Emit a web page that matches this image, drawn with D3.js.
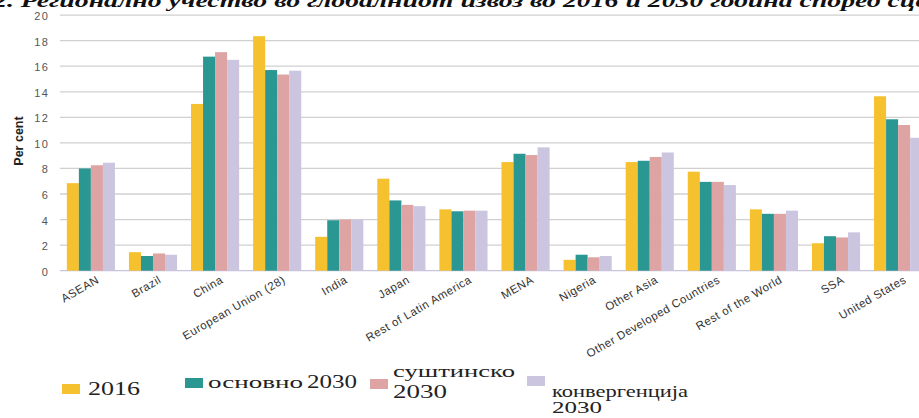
<!DOCTYPE html>
<html>
  <head>
    <meta charset="utf-8" />
    <title>Регионално учество во глобалниот извоз</title>
    <style>
      html, body {
        margin: 0;
        padding: 0;
        background-color: white;
      }
      svg { display: block; }
      .grid line { stroke: #d0d0d0; stroke-width: 1.3px; }
      .yAxis text { font-family: "Liberation Sans", Arial, sans-serif; font-size: 11px; fill: #555; letter-spacing: 1.2px; }
      .xLabel { font-family: "Liberation Sans", Arial, sans-serif; font-size: 11.5px; fill: #333; letter-spacing: 0.5px; }
      .legend text { font-family: "Liberation Serif", "Times New Roman", serif; fill: #222; }
    </style>
  </head>
  <body>
    <script src="https://d3js.org/d3.v7.min.js"></script>
    <script>
      var w = 919;
      var h = 418;

      var categories = ["ASEAN", "Brazil", "China", "European Union (28)", "India", "Japan",
        "Rest of Latin America", "MENA", "Nigeria", "Other Asia", "Other Developed Countries",
        "Rest of the World", "SSA", "United States"];

      var seriesNames = ["2016", "основно 2030", "суштинско 2030", "конвергенција 2030"];

      var v2016         = [6.85, 1.45, 13.05, 18.35, 2.65, 7.2, 4.8, 8.5, 0.85, 8.5, 7.75, 4.8, 2.15, 13.65];
      var baseline2030  = [8.0, 1.15, 16.75, 15.7, 3.95, 5.5, 4.65, 9.15, 1.25, 8.6, 6.95, 4.45, 2.7, 11.85];
      var substantive2030 = [8.25, 1.35, 17.1, 15.35, 4.0, 5.15, 4.7, 9.05, 1.05, 8.9, 6.95, 4.45, 2.6, 11.4];
      var convergence2030 = [8.45, 1.25, 16.5, 15.65, 4.0, 5.05, 4.7, 9.65, 1.15, 9.25, 6.7, 4.7, 3.0, 10.4];

      var yTicks = [0, 2, 4, 6, 8, 10, 12, 14, 16, 18, 20];

      var colors = ["#f6c12f", "#2b9793", "#dea3a3", "#cbc5e0"];

      var allSeries = [v2016, baseline2030, substantive2030, convergence2030];

      var svg = d3.select("body")
        .append("svg")
        .attr("width", w)
        .attr("height", h);

      // title, cut off at the top like in the scan
      svg.append("text")
        .attr("x", -7)
        .attr("y", 7)
        .attr("font-family", "Liberation Serif, serif")
        .attr("font-weight", "bold")
        .attr("font-style", "italic")
        .attr("font-size", 19)
        .attr("fill", "#111")
        .attr("textLength", 950)
        .attr("lengthAdjust", "spacingAndGlyphs")
        .text("2. Регионално учество во глобалниот извоз во 2016 и 2030 година според сцен");

      var y = d3.scaleLinear()
        .domain([0, 20])
        .range([270.7, 15.1]);

      var x0 = d3.scaleBand()
        .domain(categories)
        .range([60, 929])
        .paddingInner(0.225)
        .paddingOuter(0.11);

      var x1 = d3.scaleBand()
        .domain(d3.range(4))
        .range([0, x0.bandwidth()]);

      // grid lines
      svg.append("g")
        .attr("class", "grid")
        .selectAll("line")
        .data(yTicks.slice(1))
        .enter()
        .append("line")
        .attr("x1", 60)
        .attr("x2", w)
        .attr("y1", function(d) { return y(d); })
        .attr("y2", function(d) { return y(d); });

      svg.append("line")
        .attr("x1", 60)
        .attr("x2", w)
        .attr("y1", y(0))
        .attr("y2", y(0))
        .attr("stroke", "#c8c4dc")
        .attr("stroke-width", 1.2);

      var yAxis = d3.axisLeft(y)
        .tickValues(yTicks)
        .tickSize(0)
        .tickPadding(0);

      svg.append("g")
        .attr("class", "yAxis")
        .attr("transform", "translate(49,1)")
        .call(yAxis)
        .select(".domain").remove();

      svg.append("text")
        .attr("transform", "translate(23," + 141 + ") rotate(-90)")
        .attr("text-anchor", "middle")
        .attr("font-family", "Liberation Sans Narrow, Liberation Sans, sans-serif")
        .attr("font-size", 12.5)
        .attr("font-weight", "bold")
        .attr("fill", "#222")
        .text("Per cent");

      // bars
      var groups = svg.selectAll(".group")
        .data(categories)
        .enter()
        .append("g")
        .attr("class", "group")
        .attr("transform", function(d) { return "translate(" + x0(d) + ",0)"; });

      groups.selectAll("rect")
        .data(function(d, i) { return allSeries.map(function(s, k) { return { k: k, v: s[i] }; }); })
        .enter()
        .append("rect")
        .attr("x", function(d) { return x1(d.k); })
        .attr("y", function(d) { return y(d.v); })
        .attr("width", x1.bandwidth())
        .attr("height", function(d) { return y(0) - y(d.v); })
        .attr("fill", function(d) { return colors[d.k]; });

      // category labels
      svg.selectAll(".xLabel")
        .data(categories)
        .enter()
        .append("text")
        .attr("class", "xLabel")
        .attr("text-anchor", "end")
        .attr("transform", function(d) {
          return "translate(" + (x0(d) + x0.bandwidth() / 2 + 9) + ",282) rotate(-30)";
        })
        .text(function(d) { return d; });

      // legend (scan is stretched horizontally, so text is fitted to widths)
      var legend = svg.append("g").attr("class", "legend");

      var legendSquares = [[62, 384], [185, 378], [370, 379], [527, 376]];

      var legendTexts = [
        { t: "2016", x: 88, y: 395, s: 18, len: 52 },
        { t: "основно", x: 208, y: 388, s: 17, len: 95 },
        { t: "2030", x: 307, y: 388, s: 18, len: 50 },
        { t: "суштинско", x: 393, y: 377, s: 17, len: 122 },
        { t: "2030", x: 393, y: 398, s: 18, len: 54 },
        { t: "конвергенција", x: 552, y: 397, s: 16, len: 136 },
        { t: "2030", x: 552, y: 413, s: 16, len: 50 }
      ];

      legend.selectAll("rect")
        .data(legendSquares)
        .enter()
        .append("rect")
        .attr("x", function(d) { return d[0]; })
        .attr("y", function(d) { return d[1]; })
        .attr("width", 18)
        .attr("height", 10)
        .attr("fill", function(d, i) { return colors[i]; });

      legend.selectAll("text")
        .data(legendTexts)
        .enter()
        .append("text")
        .attr("x", function(d) { return d.x; })
        .attr("y", function(d) { return d.y; })
        .attr("font-size", function(d) { return d.s; })
        .attr("textLength", function(d) { return d.len; })
        .attr("lengthAdjust", "spacingAndGlyphs")
        .text(function(d) { return d.t; });
    </script>
  </body>
</html>
